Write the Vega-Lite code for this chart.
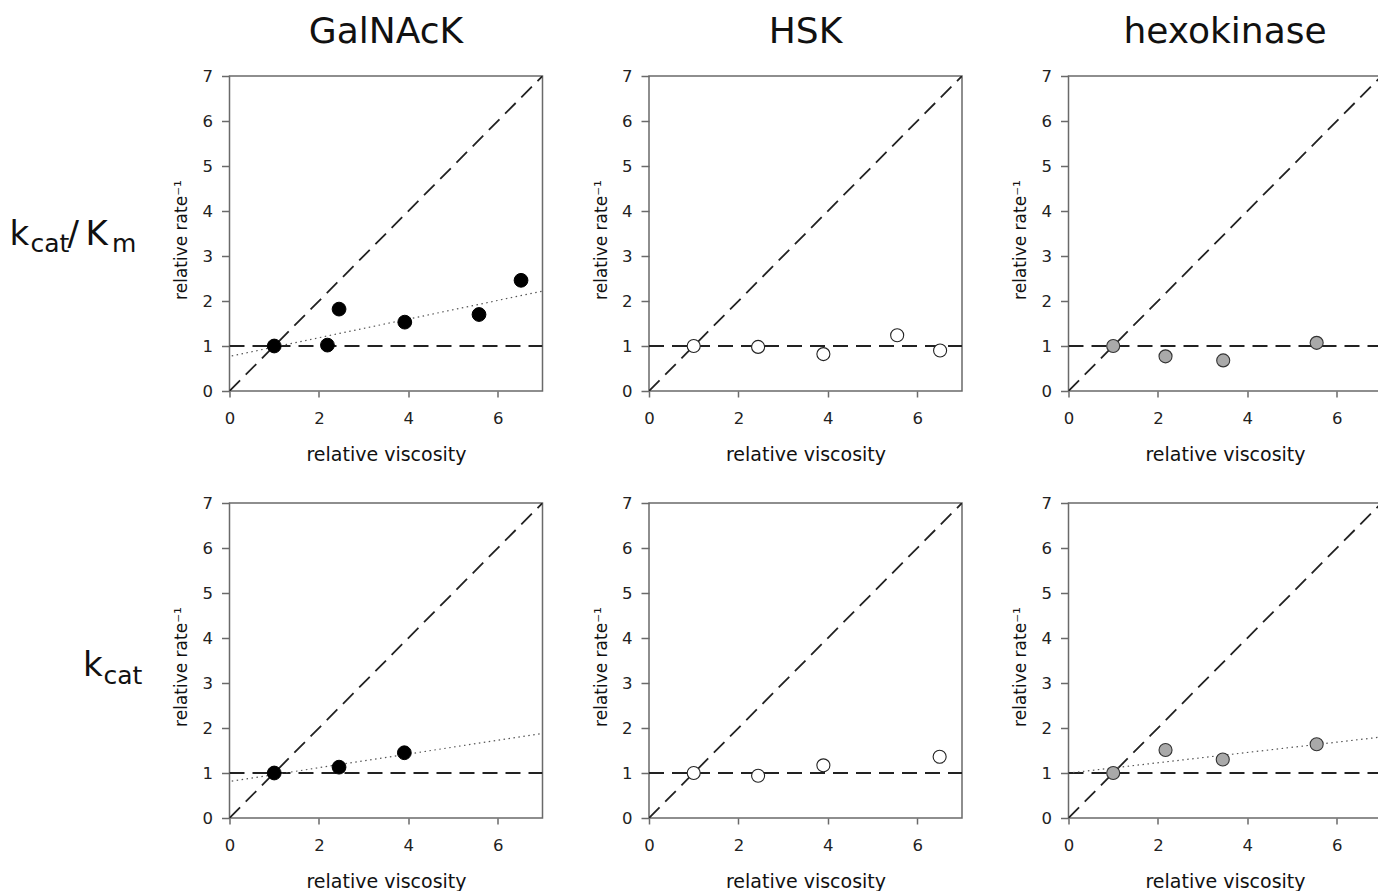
{
  "$schema": "https://vega.github.io/schema/vega-lite/v6.json",
  "background": "white",
  "padding": {"left": 5, "top": 13, "right": 0, "bottom": 0},
  "datasets": {
    "refs": [
      {"kind": "diag", "x": 0, "y": 0}, {"kind": "diag", "x": 7, "y": 7},
      {"kind": "unity", "x": 0, "y": 1}, {"kind": "unity", "x": 7, "y": 1}
    ],
    "fits": [
      {"panel": "GalNAcK|kcat/Km", "x": 0.05, "y": 0.78}, {"panel": "GalNAcK|kcat/Km", "x": 7, "y": 2.22},
      {"panel": "GalNAcK|kcat", "x": 0.05, "y": 0.82}, {"panel": "GalNAcK|kcat", "x": 7, "y": 1.88},
      {"panel": "hexokinase|kcat", "x": 0.1, "y": 1.01}, {"panel": "hexokinase|kcat", "x": 7, "y": 1.80}
    ],
    "points": [
      {"panel": "GalNAcK|kcat/Km", "x": 1.0, "y": 1.0},
      {"panel": "GalNAcK|kcat/Km", "x": 2.19, "y": 1.02},
      {"panel": "GalNAcK|kcat/Km", "x": 2.45, "y": 1.82},
      {"panel": "GalNAcK|kcat/Km", "x": 3.92, "y": 1.53},
      {"panel": "GalNAcK|kcat/Km", "x": 5.58, "y": 1.70},
      {"panel": "GalNAcK|kcat/Km", "x": 6.52, "y": 2.46},
      {"panel": "HSK|kcat/Km", "x": 1.0, "y": 1.0},
      {"panel": "HSK|kcat/Km", "x": 2.44, "y": 0.98},
      {"panel": "HSK|kcat/Km", "x": 3.90, "y": 0.82},
      {"panel": "HSK|kcat/Km", "x": 5.55, "y": 1.24},
      {"panel": "HSK|kcat/Km", "x": 6.51, "y": 0.90},
      {"panel": "hexokinase|kcat/Km", "x": 1.0, "y": 1.0},
      {"panel": "hexokinase|kcat/Km", "x": 2.17, "y": 0.77},
      {"panel": "hexokinase|kcat/Km", "x": 3.46, "y": 0.68},
      {"panel": "hexokinase|kcat/Km", "x": 5.55, "y": 1.07},
      {"panel": "GalNAcK|kcat", "x": 1.0, "y": 1.0},
      {"panel": "GalNAcK|kcat", "x": 2.45, "y": 1.13},
      {"panel": "GalNAcK|kcat", "x": 3.91, "y": 1.45},
      {"panel": "HSK|kcat", "x": 1.0, "y": 1.0},
      {"panel": "HSK|kcat", "x": 2.44, "y": 0.94},
      {"panel": "HSK|kcat", "x": 3.90, "y": 1.17},
      {"panel": "HSK|kcat", "x": 6.50, "y": 1.36},
      {"panel": "hexokinase|kcat", "x": 1.0, "y": 1.0},
      {"panel": "hexokinase|kcat", "x": 2.17, "y": 1.51},
      {"panel": "hexokinase|kcat", "x": 3.45, "y": 1.30},
      {"panel": "hexokinase|kcat", "x": 5.55, "y": 1.64}
    ]
  },
  "columns": 4,
  "bounds": "flush",
  "spacing": {"row": 112, "column": 106.5},
  "concat": [
    {
      "width": 118, "height": 315, "view": {"stroke": null},
      "layer": [
        {"data": {"values": [{"t": "k"}]}, "mark": {"type": "text", "align": "left", "baseline": "alphabetic", "dx": -54.5, "dy": 11.5, "fontSize": 34, "color": "#111"}, "encoding": {"text": {"field": "t"}}},
        {"data": {"values": [{"t": "cat"}]}, "mark": {"type": "text", "align": "left", "baseline": "alphabetic", "dx": -33.5, "dy": 18.5, "fontSize": 25, "color": "#111"}, "encoding": {"text": {"field": "t"}}},
        {"data": {"values": [{"t": "/"}]}, "mark": {"type": "text", "align": "left", "baseline": "alphabetic", "dx": 3.5, "dy": 11.5, "fontSize": 34, "color": "#111"}, "encoding": {"text": {"field": "t"}}},
        {"data": {"values": [{"t": "K"}]}, "mark": {"type": "text", "align": "left", "baseline": "alphabetic", "dx": 21.5, "dy": 11.5, "fontSize": 34, "color": "#111"}, "encoding": {"text": {"field": "t"}}},
        {"data": {"values": [{"t": "m"}]}, "mark": {"type": "text", "align": "left", "baseline": "alphabetic", "dx": 48, "dy": 18.5, "fontSize": 25, "color": "#111"}, "encoding": {"text": {"field": "t"}}}
      ]
    },
    {
      "width": 313, "height": 315, "title": "GalNAcK",
      "layer": [
        {"data": {"name": "refs"}, "mark": {"type": "line", "stroke": "#222", "strokeWidth": 1.8, "strokeDash": [15, 8], "clip": true},
         "encoding": {"x": {"field": "x", "type": "quantitative", "scale": {"domain": [0, 7], "nice": false}, "axis": {"values": [0, 2, 4, 6], "title": "relative viscosity"}},
                      "y": {"field": "y", "type": "quantitative", "scale": {"domain": [0, 7], "nice": false}, "axis": {"values": [0, 1, 2, 3, 4, 5, 6, 7], "title": "relative rate⁻¹"}},
                      "detail": {"field": "kind"}}},
        {"data": {"name": "fits"}, "transform": [{"filter": "datum.panel === 'GalNAcK|kcat/Km'"}], "mark": {"type": "line", "stroke": "#555", "strokeWidth": 1.2, "strokeDash": [1.5, 3.5]},
         "encoding": {"x": {"field": "x", "type": "quantitative"}, "y": {"field": "y", "type": "quantitative"}}},
        {"data": {"name": "points"}, "transform": [{"filter": "datum.panel === 'GalNAcK|kcat/Km'"}], "mark": {"type": "circle", "size": 190, "fill": "#000", "stroke": "#000", "strokeWidth": 1, "opacity": 1},
         "encoding": {"x": {"field": "x", "type": "quantitative"}, "y": {"field": "y", "type": "quantitative"}}}
      ]
    },
    {
      "width": 313, "height": 315, "title": "HSK",
      "layer": [
        {"data": {"name": "refs"}, "mark": {"type": "line", "stroke": "#222", "strokeWidth": 1.8, "strokeDash": [15, 8], "clip": true},
         "encoding": {"x": {"field": "x", "type": "quantitative", "scale": {"domain": [0, 7], "nice": false}, "axis": {"values": [0, 2, 4, 6], "title": "relative viscosity"}},
                      "y": {"field": "y", "type": "quantitative", "scale": {"domain": [0, 7], "nice": false}, "axis": {"values": [0, 1, 2, 3, 4, 5, 6, 7], "title": "relative rate⁻¹"}},
                      "detail": {"field": "kind"}}},
        {"data": {"name": "points"}, "transform": [{"filter": "datum.panel === 'HSK|kcat/Km'"}], "mark": {"type": "circle", "size": 170, "fill": "#fff", "stroke": "#222", "strokeWidth": 1.1, "opacity": 1},
         "encoding": {"x": {"field": "x", "type": "quantitative"}, "y": {"field": "y", "type": "quantitative"}}}
      ]
    },
    {
      "width": 313, "height": 315, "title": "hexokinase",
      "layer": [
        {"data": {"name": "refs"}, "mark": {"type": "line", "stroke": "#222", "strokeWidth": 1.8, "strokeDash": [15, 8], "clip": true},
         "encoding": {"x": {"field": "x", "type": "quantitative", "scale": {"domain": [0, 7], "nice": false}, "axis": {"values": [0, 2, 4, 6], "title": "relative viscosity"}},
                      "y": {"field": "y", "type": "quantitative", "scale": {"domain": [0, 7], "nice": false}, "axis": {"values": [0, 1, 2, 3, 4, 5, 6, 7], "title": "relative rate⁻¹"}},
                      "detail": {"field": "kind"}}},
        {"data": {"name": "points"}, "transform": [{"filter": "datum.panel === 'hexokinase|kcat/Km'"}], "mark": {"type": "circle", "size": 170, "fill": "#a9a9a9", "stroke": "#333", "strokeWidth": 1.1, "opacity": 1},
         "encoding": {"x": {"field": "x", "type": "quantitative"}, "y": {"field": "y", "type": "quantitative"}}}
      ]
    },
    {
      "width": 118, "height": 315, "view": {"stroke": null},
      "layer": [
        {"data": {"values": [{"t": "k"}]}, "mark": {"type": "text", "align": "left", "baseline": "alphabetic", "dx": 19, "dy": 15.7, "fontSize": 34, "color": "#111"}, "encoding": {"text": {"field": "t"}}},
        {"data": {"values": [{"t": "cat"}]}, "mark": {"type": "text", "align": "left", "baseline": "alphabetic", "dx": 39.5, "dy": 23, "fontSize": 25, "color": "#111"}, "encoding": {"text": {"field": "t"}}}
      ]
    },
    {
      "width": 313, "height": 315,
      "layer": [
        {"data": {"name": "refs"}, "mark": {"type": "line", "stroke": "#222", "strokeWidth": 1.8, "strokeDash": [15, 8], "clip": true},
         "encoding": {"x": {"field": "x", "type": "quantitative", "scale": {"domain": [0, 7], "nice": false}, "axis": {"values": [0, 2, 4, 6], "title": "relative viscosity"}},
                      "y": {"field": "y", "type": "quantitative", "scale": {"domain": [0, 7], "nice": false}, "axis": {"values": [0, 1, 2, 3, 4, 5, 6, 7], "title": "relative rate⁻¹"}},
                      "detail": {"field": "kind"}}},
        {"data": {"name": "fits"}, "transform": [{"filter": "datum.panel === 'GalNAcK|kcat'"}], "mark": {"type": "line", "stroke": "#555", "strokeWidth": 1.2, "strokeDash": [1.5, 3.5]},
         "encoding": {"x": {"field": "x", "type": "quantitative"}, "y": {"field": "y", "type": "quantitative"}}},
        {"data": {"name": "points"}, "transform": [{"filter": "datum.panel === 'GalNAcK|kcat'"}], "mark": {"type": "circle", "size": 190, "fill": "#000", "stroke": "#000", "strokeWidth": 1, "opacity": 1},
         "encoding": {"x": {"field": "x", "type": "quantitative"}, "y": {"field": "y", "type": "quantitative"}}}
      ]
    },
    {
      "width": 313, "height": 315,
      "layer": [
        {"data": {"name": "refs"}, "mark": {"type": "line", "stroke": "#222", "strokeWidth": 1.8, "strokeDash": [15, 8], "clip": true},
         "encoding": {"x": {"field": "x", "type": "quantitative", "scale": {"domain": [0, 7], "nice": false}, "axis": {"values": [0, 2, 4, 6], "title": "relative viscosity"}},
                      "y": {"field": "y", "type": "quantitative", "scale": {"domain": [0, 7], "nice": false}, "axis": {"values": [0, 1, 2, 3, 4, 5, 6, 7], "title": "relative rate⁻¹"}},
                      "detail": {"field": "kind"}}},
        {"data": {"name": "points"}, "transform": [{"filter": "datum.panel === 'HSK|kcat'"}], "mark": {"type": "circle", "size": 170, "fill": "#fff", "stroke": "#222", "strokeWidth": 1.1, "opacity": 1},
         "encoding": {"x": {"field": "x", "type": "quantitative"}, "y": {"field": "y", "type": "quantitative"}}}
      ]
    },
    {
      "width": 313, "height": 315,
      "layer": [
        {"data": {"name": "refs"}, "mark": {"type": "line", "stroke": "#222", "strokeWidth": 1.8, "strokeDash": [15, 8], "clip": true},
         "encoding": {"x": {"field": "x", "type": "quantitative", "scale": {"domain": [0, 7], "nice": false}, "axis": {"values": [0, 2, 4, 6], "title": "relative viscosity"}},
                      "y": {"field": "y", "type": "quantitative", "scale": {"domain": [0, 7], "nice": false}, "axis": {"values": [0, 1, 2, 3, 4, 5, 6, 7], "title": "relative rate⁻¹"}},
                      "detail": {"field": "kind"}}},
        {"data": {"name": "fits"}, "transform": [{"filter": "datum.panel === 'hexokinase|kcat'"}], "mark": {"type": "line", "stroke": "#555", "strokeWidth": 1.2, "strokeDash": [1.5, 3.5]},
         "encoding": {"x": {"field": "x", "type": "quantitative"}, "y": {"field": "y", "type": "quantitative"}}},
        {"data": {"name": "points"}, "transform": [{"filter": "datum.panel === 'hexokinase|kcat'"}], "mark": {"type": "circle", "size": 170, "fill": "#a9a9a9", "stroke": "#333", "strokeWidth": 1.1, "opacity": 1},
         "encoding": {"x": {"field": "x", "type": "quantitative"}, "y": {"field": "y", "type": "quantitative"}}}
      ]
    }
  ],
  "config": {
    "font": "DejaVu Sans",
    "view": {"stroke": "#6a6a6a", "strokeWidth": 1.5},
    "title": {"font": "DejaVu Sans", "fontSize": 36, "fontWeight": "normal", "color": "#111", "offset": 17, "anchor": "middle"},
    "text": {"font": "DejaVu Sans"},
    "axis": {
      "domain": false, "grid": false, "labelFlush": false,
      "tickColor": "#6a6a6a", "tickWidth": 1.5,
      "labelFont": "DejaVu Sans", "labelFontSize": 16.5, "labelColor": "#222",
      "titleFont": "DejaVu Sans", "titleFontWeight": "normal", "titleColor": "#111"
    },
    "axisX": {"tickSize": 6, "labelPadding": 13, "titleFontSize": 19, "titleBaseline": "alphabetic", "titleY": 69},
    "axisY": {"tickSize": 8, "labelPadding": 9, "titleFontSize": 17, "titleBaseline": "alphabetic", "titleX": -43, "titleY": 163.5}
  }
}
